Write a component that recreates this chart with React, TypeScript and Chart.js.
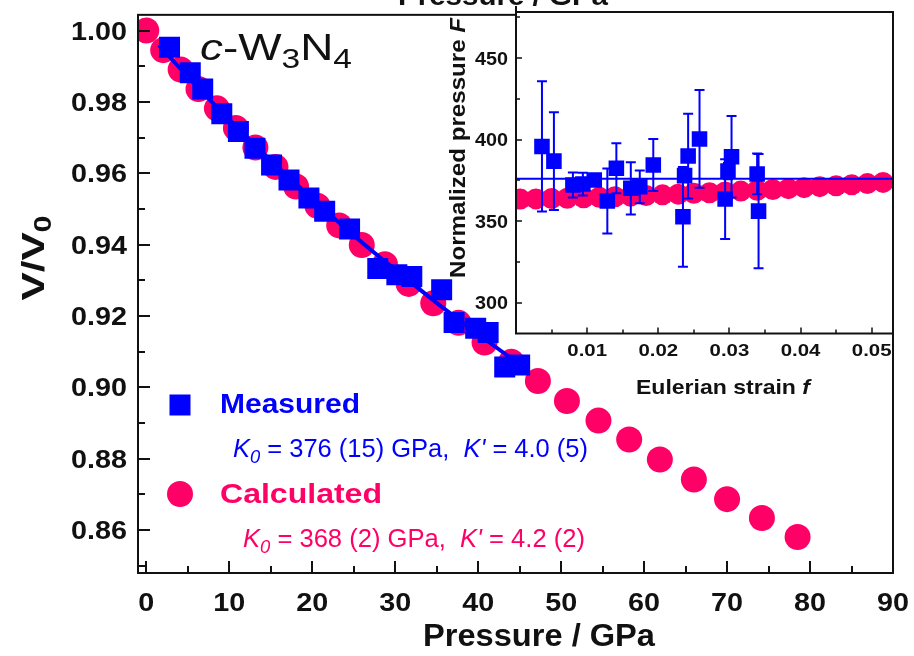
import React, { useEffect, useRef } from "react";
import { Chart, registerables } from "chart.js";

Chart.register(...registerables);

const FONT = "'Liberation Sans', Arial, Helvetica, sans-serif";
const BLUE = "#0000FF";
const PINK = "#FF0066";
const INK = "#111111";

// ---------- main plot data (Pressure / GPa vs V/V0) ----------
const MEAS_P = [2.8, 5.3, 6.8, 9.1, 11.1, 13.1, 15.1, 17.2, 19.6, 21.5, 24.5, 27.9, 30.2, 32.0, 35.6, 37.1, 39.7, 41.2, 43.2, 45.0];
const MEAS_V = [0.9953, 0.9882, 0.9836, 0.9767, 0.9717, 0.967, 0.9623, 0.9581, 0.9531, 0.9494, 0.9444, 0.9333, 0.9316, 0.9311, 0.9274, 0.9182, 0.9166, 0.9154, 0.9057, 0.9063];

const FIT_P = [1.5, 5, 10, 15, 20, 25, 30, 35, 40, 46];
const FIT_V = [0.996, 0.9871, 0.975, 0.9636, 0.9529, 0.9426, 0.933, 0.9237, 0.9149, 0.9048];

const CALC_P = [0, 2.04, 4.14, 6.29, 8.51, 10.8, 13.15, 15.57, 18.05, 20.62, 23.25, 25.97, 28.76, 31.63, 34.59, 37.64, 40.77, 44.0, 47.2, 50.7, 54.5, 58.2, 61.9, 66.0, 70.0, 74.2, 78.5];
const CALC_V = [1.0, 0.9945, 0.9891, 0.9836, 0.9782, 0.9727, 0.9672, 0.9618, 0.9563, 0.9509, 0.9454, 0.9399, 0.9345, 0.929, 0.9236, 0.9181, 0.9126, 0.9072, 0.9018, 0.8962, 0.8907, 0.8854, 0.8798, 0.8742, 0.8687, 0.8634, 0.8581];

const MAIN_X_LABELS = [0, 10, 20, 30, 40, 50, 60, 70, 80, 90];
const MAIN_X_MINOR = [5, 15, 25, 35, 45, 55, 65, 75, 85];
const MAIN_Y_LABELS = [0.86, 0.88, 0.9, 0.92, 0.94, 0.96, 0.98, 1.0];
const MAIN_Y_MINOR = [0.85, 0.87, 0.89, 0.91, 0.93, 0.95, 0.97, 0.99];

// ---------- inset data (Eulerian strain f vs normalized pressure F) ----------
const IN_MEAS_F = [0.00365, 0.00533, 0.008, 0.0094, 0.011, 0.01284, 0.01411, 0.01614, 0.0174, 0.0193, 0.02347, 0.0237, 0.0242, 0.0258, 0.0294, 0.0298, 0.0303, 0.0339, 0.0341];
const IN_MEAS_FP = [395.8, 386.8, 372.1, 372.7, 375.2, 362.3, 382.4, 370.1, 371.0, 384.4, 352.6, 377.9, 389.9, 400.4, 363.5, 380.7, 389.5, 378.9, 356.1];
const IN_MEAS_ERR = [40, 30, 7.7, 7, 3, 20, 15.4, 16, 10, 16, 30.6, 4, 26, 30, 24.5, 5, 25, 12.5, 35];

const IN_CALC_F = [0.0006, 0.0028, 0.005, 0.0072, 0.0095, 0.0117, 0.0139, 0.0161, 0.0183, 0.0206, 0.0228, 0.025, 0.0272, 0.0294, 0.0316, 0.0339, 0.0361, 0.0383, 0.0405, 0.0427, 0.045, 0.0472, 0.0494, 0.0516];
const IN_CALC_FP = [363.5, 363.6, 363.8, 364.0, 364.3, 364.6, 364.9, 365.3, 365.7, 366.1, 366.5, 367.0, 367.4, 367.9, 368.4, 368.9, 369.4, 369.9, 370.5, 371.1, 371.7, 372.3, 373.0, 373.7];

const IN_FIT_F = [0, 0.053];
const IN_FIT_FP = [376, 376];

const IN_X_LABELS = [0.01, 0.02, 0.03, 0.04, 0.05];
const IN_X_MINOR = [0.005, 0.015, 0.025, 0.035, 0.045];
const IN_Y_LABELS = [300, 350, 400, 450];
const IN_Y_MINOR = [325, 375, 425, 475];

type Part = { t: string; i?: boolean; b?: boolean; sub?: boolean };
type RichOpts = {
  align?: "left" | "center" | "right";
  width?: number;
  sx?: number;
  rot?: number;
  color: string;
  bold?: boolean;
};

function richText(ctx: CanvasRenderingContext2D, parts: Part[], x: number, y: number, size: number, o: RichOpts) {
  ctx.save();
  const font = (p: Part) =>
    `${p.i ? "italic " : ""}${(p.b ?? o.bold) ? "bold " : ""}${p.sub ? Math.round(size * 0.72) : size}px ${FONT}`;
  const widths = parts.map((p) => {
    ctx.font = font(p);
    return ctx.measureText(p.t).width;
  });
  const natural = widths.reduce((a, b) => a + b, 0);
  const sx = o.width ? o.width / natural : o.sx ?? 1;
  ctx.translate(x, y);
  if (o.rot) ctx.rotate(o.rot);
  ctx.scale(sx, 1);
  let cx = o.align === "center" ? -natural / 2 : o.align === "right" ? -natural : 0;
  ctx.fillStyle = o.color;
  ctx.textBaseline = "alphabetic";
  ctx.textAlign = "left";
  parts.forEach((p, k) => {
    ctx.font = font(p);
    ctx.fillText(p.t, cx, p.sub ? size * 0.22 : 0);
    cx += widths[k];
  });
  ctx.restore();
}

const mainDecor = {
  id: "mainDecor",
  afterDatasetsDraw(chart: any) {
    const { ctx, chartArea: a, scales } = chart;
    const x = scales.x;
    const y = scales.y;
    ctx.save();
    ctx.strokeStyle = INK;
    ctx.lineWidth = 2;
    ctx.strokeRect(a.left, a.top, a.right - a.left, a.bottom - a.top);
    ctx.beginPath();
    MAIN_X_LABELS.forEach((v) => {
      const p = Math.round(x.getPixelForValue(v));
      ctx.moveTo(p, a.bottom);
      ctx.lineTo(p, a.bottom - 12);
    });
    MAIN_X_MINOR.forEach((v) => {
      const p = Math.round(x.getPixelForValue(v));
      ctx.moveTo(p, a.bottom);
      ctx.lineTo(p, a.bottom - 7);
    });
    MAIN_Y_LABELS.forEach((v) => {
      const p = Math.round(y.getPixelForValue(v));
      ctx.moveTo(a.left, p);
      ctx.lineTo(a.left + 12, p);
    });
    MAIN_Y_MINOR.forEach((v) => {
      const p = Math.round(y.getPixelForValue(v));
      ctx.moveTo(a.left, p);
      ctx.lineTo(a.left + 7, p);
    });
    ctx.stroke();
    ctx.restore();

    MAIN_X_LABELS.forEach((v) => {
      richText(ctx, [{ t: String(v) }], x.getPixelForValue(v), 611, 25, { align: "center", sx: 1.15, color: INK, bold: true });
    });
    MAIN_Y_LABELS.forEach((v) => {
      richText(ctx, [{ t: v.toFixed(2) }], 127, y.getPixelForValue(v) + 9, 25, { align: "right", sx: 1.15, color: INK, bold: true });
    });

    // axis titles
    richText(ctx, [{ t: "Pressure / GPa" }], 423, 646, 31, { align: "left", width: 232, color: INK, bold: true });
    richText(ctx, [{ t: "V/V" }, { t: "0", sub: true }], 44, 258, 32, { align: "center", width: 85, rot: -Math.PI / 2, color: INK, bold: true });
    // cut-off title of the panel above
    richText(ctx, [{ t: "Pressure / GPa" }], 503, 5, 28, { align: "center", width: 210, color: INK, bold: true });

    // compound label
    richText(ctx, [{ t: "c", i: true }, { t: "-W" }, { t: "3", sub: true }, { t: "N" }, { t: "4", sub: true }], 200, 60, 37, { align: "left", width: 152, color: INK });

    // legend
    ctx.save();
    ctx.fillStyle = BLUE;
    ctx.fillRect(169.5, 394.5, 21, 21);
    ctx.fillStyle = PINK;
    ctx.beginPath();
    ctx.arc(180, 494, 13, 0, Math.PI * 2);
    ctx.fill();
    ctx.restore();
    richText(ctx, [{ t: "Measured" }], 220, 413, 28, { align: "left", width: 140, color: BLUE, bold: true });
    richText(ctx, [{ t: "Calculated" }], 220, 503, 28, { align: "left", width: 162, color: PINK, bold: true });
    richText(
      ctx,
      [{ t: "K", i: true }, { t: "0", i: true, sub: true }, { t: " = 376 (15) GPa,  " }, { t: "K'", i: true }, { t: " = 4.0 (5)" }],
      233, 457, 25, { align: "left", width: 355, color: BLUE }
    );
    richText(
      ctx,
      [{ t: "K", i: true }, { t: "0", i: true, sub: true }, { t: " = 368 (2) GPa,  " }, { t: "K'", i: true }, { t: " = 4.2 (2)" }],
      243, 547, 25, { align: "left", width: 342, color: PINK }
    );
  },
};

const insetDecor = {
  id: "insetDecor",
  beforeDatasetsDraw(chart: any) {
    const { ctx, chartArea: a } = chart;
    ctx.save();
    ctx.fillStyle = "#ffffff";
    ctx.fillRect(a.left, a.top, a.right - a.left, a.bottom - a.top);
    ctx.restore();
  },
  afterDatasetsDraw(chart: any) {
    const { ctx, chartArea: a, scales } = chart;
    const x = scales.x;
    const y = scales.y;
    ctx.save();
    // error bars
    ctx.strokeStyle = BLUE;
    ctx.lineWidth = 2;
    ctx.beginPath();
    IN_MEAS_F.forEach((f, i) => {
      const px = x.getPixelForValue(f);
      const top = y.getPixelForValue(IN_MEAS_FP[i] + IN_MEAS_ERR[i]);
      const bot = y.getPixelForValue(IN_MEAS_FP[i] - IN_MEAS_ERR[i]);
      ctx.moveTo(px, top);
      ctx.lineTo(px, bot);
      ctx.moveTo(px - 5, top);
      ctx.lineTo(px + 5, top);
      ctx.moveTo(px - 5, bot);
      ctx.lineTo(px + 5, bot);
    });
    ctx.stroke();
    // frame
    ctx.strokeStyle = INK;
    ctx.lineWidth = 2;
    ctx.strokeRect(a.left, a.top, a.right - a.left, a.bottom - a.top);
    ctx.beginPath();
    ctx.moveTo(a.left, a.top);
    ctx.lineTo(a.left, a.top - 6);
    ctx.stroke();
    ctx.lineWidth = 1.5;
    ctx.beginPath();
    IN_X_LABELS.forEach((v) => {
      const p = Math.round(x.getPixelForValue(v));
      ctx.moveTo(p, a.bottom);
      ctx.lineTo(p, a.bottom - 6);
    });
    IN_X_MINOR.forEach((v) => {
      const p = Math.round(x.getPixelForValue(v));
      ctx.moveTo(p, a.bottom);
      ctx.lineTo(p, a.bottom - 4);
    });
    IN_Y_LABELS.forEach((v) => {
      const p = Math.round(y.getPixelForValue(v));
      ctx.moveTo(a.left, p);
      ctx.lineTo(a.left + 6, p);
    });
    IN_Y_MINOR.forEach((v) => {
      const p = Math.round(y.getPixelForValue(v));
      ctx.moveTo(a.left, p);
      ctx.lineTo(a.left + 4, p);
    });
    ctx.stroke();
    ctx.restore();

    IN_X_LABELS.forEach((v) => {
      richText(ctx, [{ t: v.toFixed(2) }], x.getPixelForValue(v), 356, 17, { align: "center", sx: 1.2, color: INK, bold: true });
    });
    IN_Y_LABELS.forEach((v) => {
      richText(ctx, [{ t: String(v) }], a.left - 8, y.getPixelForValue(v) + 6.5, 18, { align: "right", sx: 1.1, color: INK, bold: true });
    });
    richText(ctx, [{ t: "Eulerian strain " }, { t: "f", i: true }], 293, 394, 21, { align: "center", width: 174, color: INK, bold: true });
    richText(ctx, [{ t: "Normalized pressure " }, { t: "F", i: true }], 35, 148, 22, { align: "center", width: 260, rot: -Math.PI / 2, color: INK, bold: true });
  },
};

const pts = (xs: number[], ys: number[]) => xs.map((v, i) => ({ x: v, y: ys[i] }));
const AREA_CLIP = { left: 0, top: 0, right: 0, bottom: 0 };

export default function App() {
  const mainRef = useRef<HTMLCanvasElement>(null);
  const insetRef = useRef<HTMLCanvasElement>(null);

  useEffect(() => {
    const hidden = {
      grid: { display: false },
      border: { display: false },
    };
    const main = new Chart(mainRef.current as HTMLCanvasElement, {
      type: "scatter",
      data: {
        datasets: [
          {
            label: "Measured",
            data: pts(MEAS_P, MEAS_V),
            pointStyle: "rect",
            pointRadius: 14.85,
            pointBackgroundColor: BLUE,
            pointBorderWidth: 0,
            backgroundColor: BLUE,
            borderColor: BLUE,
            showLine: false,
            clip: AREA_CLIP,
          },
          {
            label: "BM fit",
            data: pts(FIT_P, FIT_V),
            showLine: true,
            borderColor: BLUE,
            borderWidth: 4,
            pointRadius: 0,
            cubicInterpolationMode: "monotone",
            clip: AREA_CLIP,
          },
          {
            label: "Calculated",
            data: pts(CALC_P, CALC_V),
            pointStyle: "circle",
            pointRadius: 13,
            pointBackgroundColor: PINK,
            pointBorderWidth: 0,
            backgroundColor: PINK,
            borderColor: PINK,
            showLine: false,
            clip: AREA_CLIP,
          },
        ],
      },
      options: {
        animation: false,
        responsive: false,
        devicePixelRatio: 1,
        events: [],
        layout: { padding: { left: 0, top: 12, right: 21, bottom: 0 } },
        plugins: { legend: { display: false }, tooltip: { enabled: false } },
        scales: {
          x: {
            type: "linear",
            min: -1,
            max: 90,
            ticks: { display: false, stepSize: 5, includeBounds: false },
            ...hidden,
            afterFit: (s: any) => {
              s.height = 83;
            },
          },
          y: {
            type: "linear",
            min: 0.848,
            max: 1.0044,
            ticks: { display: false, stepSize: 0.01, includeBounds: false },
            ...hidden,
            afterFit: (s: any) => {
              s.width = 138;
            },
          },
        },
      } as any,
      plugins: [mainDecor],
    });

    const inset = new Chart(insetRef.current as HTMLCanvasElement, {
      type: "scatter",
      data: {
        datasets: [
          {
            label: "Measured F",
            data: pts(IN_MEAS_F, IN_MEAS_FP),
            pointStyle: "rect",
            pointRadius: 11,
            pointBackgroundColor: BLUE,
            pointBorderWidth: 0,
            backgroundColor: BLUE,
            borderColor: BLUE,
            showLine: false,
            clip: AREA_CLIP,
          },
          {
            label: "K0 line",
            data: pts(IN_FIT_F, IN_FIT_FP),
            showLine: true,
            borderColor: BLUE,
            borderWidth: 2,
            pointRadius: 0,
            clip: AREA_CLIP,
          },
          {
            label: "Calculated F",
            data: pts(IN_CALC_F, IN_CALC_FP),
            pointStyle: "circle",
            pointRadius: 10.5,
            pointBackgroundColor: PINK,
            pointBorderWidth: 0,
            backgroundColor: PINK,
            borderColor: PINK,
            showLine: false,
            clip: AREA_CLIP,
          },
        ],
      },
      options: {
        animation: false,
        responsive: false,
        devicePixelRatio: 1,
        events: [],
        layout: { padding: { left: 0, top: 12, right: 21, bottom: 0 } },
        plugins: { legend: { display: false }, tooltip: { enabled: false } },
        scales: {
          x: {
            type: "linear",
            min: 0,
            max: 0.053,
            ticks: { display: false, stepSize: 0.005 },
            ...hidden,
            afterFit: (s: any) => {
              s.height = 66.5;
            },
          },
          y: {
            type: "linear",
            min: 281,
            max: 478.3,
            ticks: { display: false, stepSize: 25 },
            ...hidden,
            afterFit: (s: any) => {
              s.width = 86;
            },
          },
        },
      } as any,
      plugins: [insetDecor],
    });

    return () => {
      main.destroy();
      inset.destroy();
    };
  }, []);

  return (
    <div style={{ position: "fixed", left: 0, top: 0, width: 914, height: 656, background: "#ffffff" }}>
      <canvas
        ref={mainRef}
        width={914}
        height={656}
        style={{ position: "absolute", left: 0, top: 0, width: 914, height: 656 }}
      />
      <canvas
        ref={insetRef}
        width={484}
        height={400}
        style={{ position: "absolute", left: 430, top: 0, width: 484, height: 400 }}
      />
    </div>
  );
}
